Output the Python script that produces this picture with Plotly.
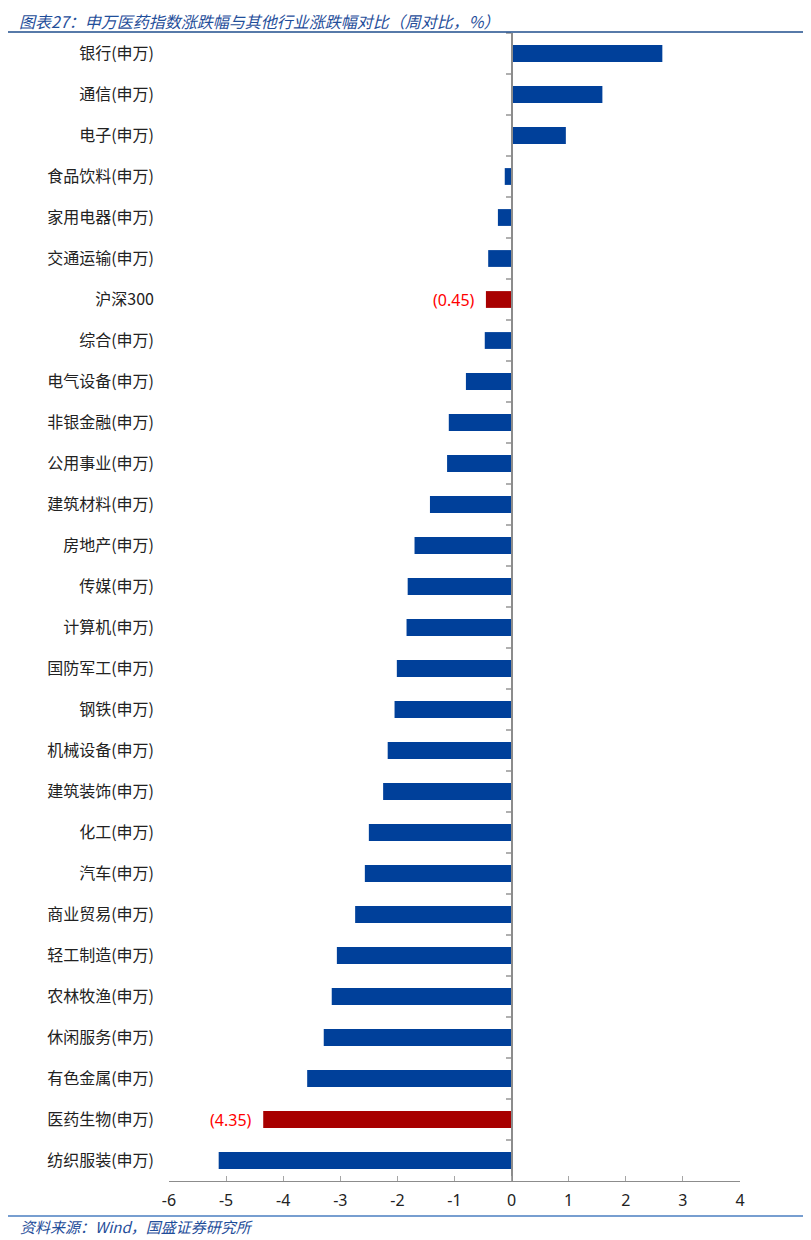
import plotly.graph_objects as go

# 周涨跌幅（%），按图中顺序自上而下
categories = ['银行(申万)', '通信(申万)', '电子(申万)', '食品饮料(申万)', '家用电器(申万)',
              '交通运输(申万)', '沪深300', '综合(申万)', '电气设备(申万)', '非银金融(申万)',
              '公用事业(申万)', '建筑材料(申万)', '房地产(申万)', '传媒(申万)', '计算机(申万)',
              '国防军工(申万)', '钢铁(申万)', '机械设备(申万)', '建筑装饰(申万)', '化工(申万)',
              '汽车(申万)', '商业贸易(申万)', '轻工制造(申万)', '农林牧渔(申万)', '休闲服务(申万)',
              '有色金属(申万)', '医药生物(申万)', '纺织服装(申万)']
values = [2.64, 1.59, 0.95, -0.12, -0.24,
          -0.41, -0.45, -0.47, -0.80, -1.10,
          -1.13, -1.43, -1.70, -1.82, -1.84,
          -2.01, -2.05, -2.17, -2.25, -2.50,
          -2.57, -2.74, -3.06, -3.15, -3.29,
          -3.58, -4.35, -5.13]
highlight = ['沪深300', '医药生物(申万)']

x_ticks = [-6, -5, -4, -3, -2, -1, 0, 1, 2, 3, 4]

BLUE = '#00409A'
RED = '#A80000'
TITLE_BLUE = '#1F4E9A'

pos = list(range(len(categories)))
colors = [RED if c in highlight else BLUE for c in categories]

fig = go.Figure()
fig.add_trace(go.Bar(
    x=values, y=pos, orientation='h', width=0.41,
    marker=dict(color=colors, line=dict(width=0)),
    showlegend=False,
))

# 突出显示的数据标签
for c, v, p in zip(categories, values, pos):
    if c in highlight:
        fig.add_annotation(
            x=v, y=p, xref='x', yref='y', xanchor='right', yanchor='middle',
            xshift=-9, text='(%.2f)' % abs(v), showarrow=False,
            font=dict(color='#FF0000', size=16, family='Noto Sans, DejaVu Sans'),
        )

xmin, xmax = -6, 4
zero_pos = (0 - xmin) / (xmax - xmin)

fig.update_layout(
    width=803, height=1232,
    margin=dict(l=161, r=71, t=25, b=59),
    paper_bgcolor='white', plot_bgcolor='white',
    font=dict(family='Noto Sans CJK SC, Noto Sans', size=14, color='#222222'),
    xaxis=dict(
        range=[xmin, xmax], tickvals=x_ticks, ticktext=[str(t) for t in x_ticks],
        showgrid=False, zeroline=False,
        showline=True, linecolor='#8C8C8C', linewidth=1.3,
        ticks='inside', ticklen=5, tickcolor='#A6A6A6', tickwidth=1.3,
        tickfont=dict(size=16, family='Noto Sans, DejaVu Sans', color='#222222'),
        ticklabelstandoff=5,
    ),
    yaxis=dict(
        range=[len(categories) - 0.5, -0.5],
        tickvals=pos, ticktext=categories,
        showgrid=False, zeroline=False, showline=False, ticks='',
        tickfont=dict(size=16, family='Noto Sans CJK SC', color='#222222'),
        ticklabelstandoff=14,
    ),
    yaxis2=dict(
        overlaying='y', anchor='free', position=zero_pos, side='left',
        range=[len(categories) - 0.5, -0.5],
        tickvals=[p - 0.5 for p in pos],
        showticklabels=False, showgrid=False, zeroline=False,
        showline=True, linecolor='#8C8C8C', linewidth=1.5,
        ticks='outside', ticklen=5, tickcolor='#B0B0B0', tickwidth=1.8,
    ),
)

# 标题 / 来源
fig.add_annotation(
    x=-0.2644, y=1.0215, xref='paper', yref='paper', xanchor='left', yanchor='top',
    text='<i>图表27：申万医药指数涨跌幅与其他行业涨跌幅对比（周对比，%）</i>',
    showarrow=False, borderpad=0,
    font=dict(size=16, color=TITLE_BLUE, family='Noto Sans CJK SC'),
)
fig.add_annotation(
    x=-0.2644, y=-0.0400, xref='paper', yref='paper', xanchor='left', yanchor='middle',
    text='<i>资料来源：Wind，国盛证券研究所</i>',
    showarrow=False, font=dict(size=15, color=TITLE_BLUE, family='Noto Sans CJK SC'),
)
fig.add_shape(type='line', xref='paper', yref='paper', x0=-0.29, x1=1.125, y0=1.0009, y1=1.0009,
              line=dict(color='#1F4E8C', width=1.5))
fig.add_shape(type='line', xref='paper', yref='paper', x0=-0.29, x1=1.125, y0=-0.0305, y1=-0.0305,
              line=dict(color='#4A7EC0', width=1.5))

# 占位 trace，使 yaxis2（零线及分隔刻度）被绘制
fig.add_trace(go.Scatter(x=[None], y=[None], yaxis='y2', showlegend=False, hoverinfo='skip'))

fig.write_html('out.html')
